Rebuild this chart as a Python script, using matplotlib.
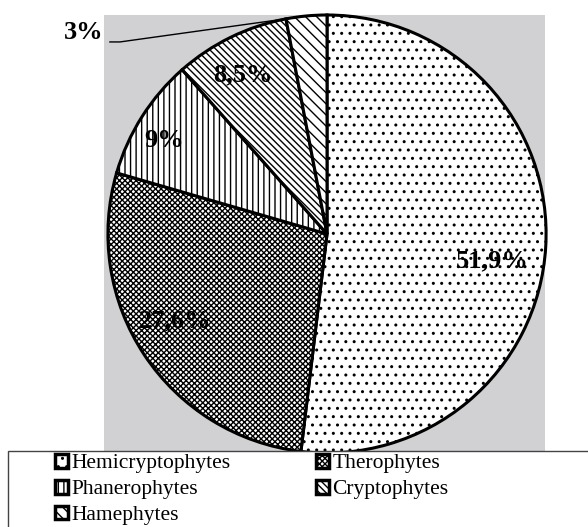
import matplotlib
matplotlib.use("Agg")
import matplotlib.pyplot as plt
import matplotlib.patches as mpatches
import numpy as np

# データ
categories = ["Hemicryptophytes", "Therophytes", "Phanerophytes", "Cryptophytes", "Hamephytes"]
values = [51.9, 27.6, 9.0, 8.5, 3.0]
labels = ["51,9%", "27,6%", "9%", "8,5%", "3%"]
hatches = ["..", "xxxxxx", "|||", "\\\\\\\\\\", "\\\\\\"]

plt.rcParams['font.family'] = ['Liberation Serif', 'DejaVu Serif']
plt.rcParams['hatch.linewidth'] = 1.0

fig = plt.figure(figsize=(5.88, 5.27), dpi=100)
ax = fig.add_axes([104/588, 1-451/527, 441/588, 436/527])

wedges, _ = ax.pie(values, startangle=90, counterclock=False, radius=1.0,
                   colors=['white']*len(values),
                   wedgeprops=dict(edgecolor='black', linewidth=2.2))
for w, h in zip(wedges, hatches):
    w.set_hatch(h)
    w.set_clip_on(False)

# 背景（灰色）
ax.set_frame_on(True)
ax.patch.set_visible(True)
ax.set_facecolor('#d1d0d2')
ax.set_xlim(-1.018, 0.995)
ax.set_ylim(-0.991, 1.0)
ax.set_aspect('auto')
ax.set_xticks([])
ax.set_yticks([])
for s in ax.spines.values():
    s.set_visible(False)

# ラベル位置
label_pos = [(0.753, -0.123), (-0.694, -0.397), (-0.744, 0.429), (-0.384, 0.726)]
for (x, y), t in zip(label_pos, labels[:4]):
    ax.text(x, y, t, ha='center', va='center', fontsize=19, fontweight='bold',
            clip_on=False)

# 3% 引き出し線
w = wedges[4]
mid = np.deg2rad((w.theta1 + w.theta2) / 2)
ax.text(-1.11, 0.918, labels[4], ha='center', va='center', fontsize=19,
        fontweight='bold', clip_on=False)
ax.plot([-0.991, -0.945, np.cos(mid)], [0.877, 0.877, np.sin(mid)],
        color='black', lw=1, clip_on=False)

# 凡例の枠
box = mpatches.Rectangle((8/588, -0.05), 1.0, 0.05 + 76/527, transform=fig.transFigure,
                         facecolor='white', edgecolor='#444444', linewidth=1, zorder=0)
fig.patches.append(box)

order = [0, 2, 4, 1, 3]
leg = fig.legend([wedges[i] for i in order], [categories[i] for i in order],
                 loc='upper left', bbox_to_anchor=(55/588, 1-454/527), ncol=2,
                 frameon=False, fontsize=15.5, handlelength=0.6, handleheight=0.6,
                 handletextpad=0.15, labelspacing=0.3, columnspacing=4.0,
                 borderpad=0, borderaxespad=0)
for p in leg.get_patches():
    p.set_linewidth(2.5)

fig.savefig("out.png", dpi=100)
